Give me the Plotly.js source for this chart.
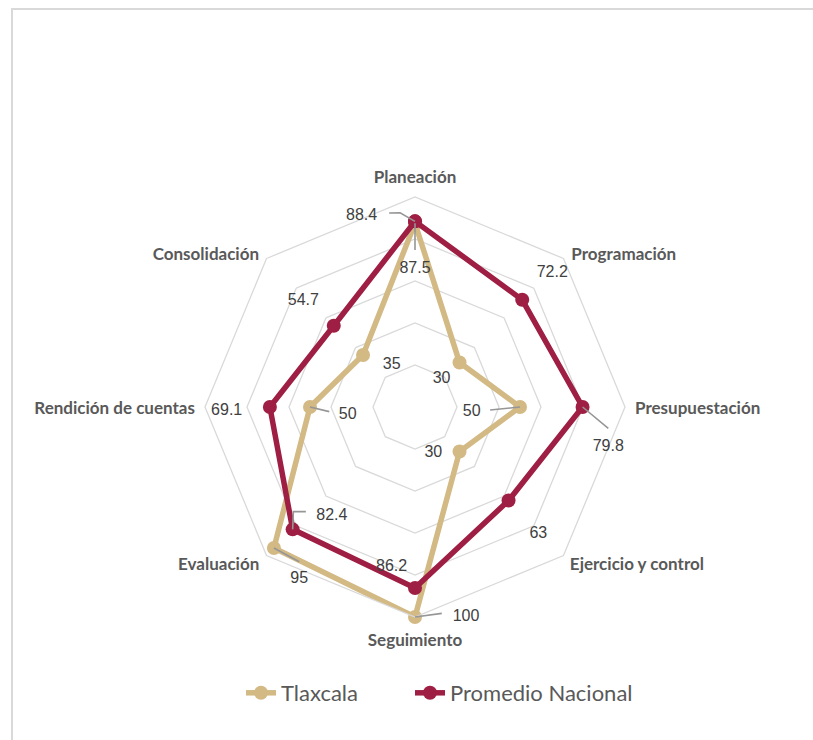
<!DOCTYPE html>
<html>
<head>
<meta charset="utf-8">
<script src="https://cdn.plot.ly/plotly-3.0.1.min.js"></script>
<style>
  html, body { margin: 0; padding: 0; background: #fff; }
  #frame { position: absolute; left: 11px; top: 8px; width: 820px; height: 760px;
           border-top: 2px solid #d9d9d9; border-left: 2px solid #d9d9d9; pointer-events: none; }
  #graph { position: absolute; left: 0; top: 0; width: 813px; height: 740px; }
</style>
</head>
<body>
<div id="graph"></div>
<div id="frame"></div>
<script>
var categories = ['Planeación', 'Programación', 'Presupuestación', 'Ejercicio y control',
                  'Seguimiento', 'Evaluación', 'Rendición de cuentas', 'Consolidación'];
var tlaxcala = [87.5, 30, 50, 30, 100, 95, 50, 35];
var promedio = [88.4, 72.2, 79.8, 63, 86.2, 82.4, 69.1, 54.7];

// placement of the category names (r in value units, theta in degrees clockwise from top)
var catLabelR     = [108.8, 103.7, 104.8, 105.6, 111.7, 105.8, 104.8, 103.4];
var catLabelTheta = [0, 45.9, 90.65, 135.7, 180, 224.5, 269.35, 314.1];
var catLabelPos   = ['middle center', 'middle right', 'middle right', 'middle right',
                     'middle center', 'middle left', 'middle left', 'middle left'];

// where each value label sits
var tlaxLabelR     = [65.6, 18.3, 27.1, 23.7, 102.7, 98.8, 32.3, 22.8];
var tlaxLabelTheta = [0, 43.8, 95.5, 158.4, 166.3, 213.9, 263.0, 330.9];
var promLabelR     = [94.5, 91.3, 94.0, 84.4, 77.2, 65.2, 89.7, 73.4];
var promLabelTheta = [344.4, 45.7, 101.8, 135.9, 188.3, 217.4, 268.8, 313.6];

// leader lines: [category index, series, list of [r, theta] after the point]
var leaders = [
  [0, 'prom', [[92.7, 355.6], [93.2, 352.4]]],
  [0, 'tlax', [[74.8, 0]]],
  [2, 'prom', [[92.6, 96.3]]],
  [2, 'tlax', [[35.8, 92.3]]],
  [6, 'tlax', [[40.9, 266.9]]],
  [5, 'prom', [[76.4, 229.3], [72.0, 226.2]]],
  [5, 'tlax', [[92.0, 216.8]]],
  [4, 'tlax', [[99.1, 172.6]]]
];

var tanColor = '#D3B983';
var redColor = '#9E1F43';

function closed(arr) { return arr.concat([arr[0]]); }

function seriesTrace(name, values, color, legendId) {
  return {
    type: 'scatterpolar',
    subplot: 'polar',
    name: name,
    legend: legendId,
    r: closed(values),
    theta: closed(categories),
    mode: 'lines+markers',
    line: { color: color, width: 5.5 },
    marker: { color: color, size: 14 },
    hoverinfo: 'r+theta'
  };
}

function labelTrace(values, rr, tt) {
  return {
    type: 'scatterpolar',
    subplot: 'polar2',
    r: rr,
    theta: tt,
    mode: 'text',
    cliponaxis: false,
    text: values.map(function(v) { return String(v); }),
    textposition: 'middle center',
    textfont: { family: 'Liberation Sans, Arial, sans-serif', size: 16, color: '#404040' },
    showlegend: false,
    hoverinfo: 'skip'
  };
}

var data = [
  seriesTrace('Tlaxcala', tlaxcala, tanColor, 'legend'),
  seriesTrace('Promedio Nacional', promedio, redColor, 'legend2')
];

leaders.forEach(function(l) {
  var idx = l[0];
  var v = l[1] === 'prom' ? promedio[idx] : tlaxcala[idx];
  var rr = [v], tt = [idx * 45];
  l[2].forEach(function(p) { rr.push(p[0]); tt.push(p[1]); });
  data.push({
    type: 'scatterpolar',
    subplot: 'polar2',
    r: rr,
    theta: tt,
    mode: 'lines',
    cliponaxis: false,
    line: { color: '#969696', width: 1.6 },
    showlegend: false,
    hoverinfo: 'skip'
  });
});

data.push(labelTrace(tlaxcala, tlaxLabelR, tlaxLabelTheta));
data.push(labelTrace(promedio, promLabelR, promLabelTheta));

// category names
data.push({
  type: 'scatterpolar',
  subplot: 'polar2',
  r: catLabelR,
  theta: catLabelTheta,
  mode: 'text',
  cliponaxis: false,
  text: categories,
  textposition: catLabelPos,
  textfont: { family: 'Lato, sans-serif', size: 17, color: '#595959', weight: 'bold' },
  showlegend: false,
  hoverinfo: 'skip'
});

var legendFont = { family: 'Lato, sans-serif', size: 22, color: '#595959' };

var layout = {
  width: 813,
  height: 740,
  margin: { l: 0, r: 0, t: 0, b: 0 },
  paper_bgcolor: '#fff',
  showlegend: true,
  legend: {
    x: 241 / 813, xanchor: 'left',
    y: 0.0635, yanchor: 'middle',
    font: legendFont,
    bgcolor: 'rgba(0,0,0,0)'
  },
  legend2: {
    x: 410 / 813, xanchor: 'left',
    y: 0.0635, yanchor: 'middle',
    font: legendFont,
    bgcolor: 'rgba(0,0,0,0)'
  },
  polar: {
    domain: { x: [0.25215, 0.76876], y: [0.16622, 0.73378] },
    gridshape: 'linear',
    bgcolor: 'rgba(0,0,0,0)',
    angularaxis: {
      type: 'category',
      rotation: 90,
      direction: 'clockwise',
      showgrid: false,
      showline: true,
      linecolor: '#d9d9d9',
      linewidth: 1.3,
      ticks: '',
      showticklabels: false
    },
    radialaxis: {
      range: [0, 100],
      dtick: 20,
      showticklabels: false,
      showline: false,
      ticks: '',
      gridcolor: '#d9d9d9',
      gridwidth: 1.3
    }
  },
  // overlay with same centre and scale (range 0-140 over a larger domain) for labels
  polar2: {
    domain: { x: [0.14883, 0.87208], y: [0.05270, 0.84730] },
    bgcolor: 'rgba(0,0,0,0)',
    angularaxis: {
      type: 'linear',
      thetaunit: 'degrees',
      rotation: 90,
      direction: 'clockwise',
      visible: false,
      showgrid: false,
      showline: false,
      showticklabels: false,
      ticks: ''
    },
    radialaxis: {
      range: [0, 140],
      visible: false,
      showgrid: false,
      showline: false,
      showticklabels: false,
      ticks: ''
    }
  }
};

Plotly.newPlot('graph', data, layout, { displayModeBar: false, staticPlot: true });
</script>
</body>
</html>
